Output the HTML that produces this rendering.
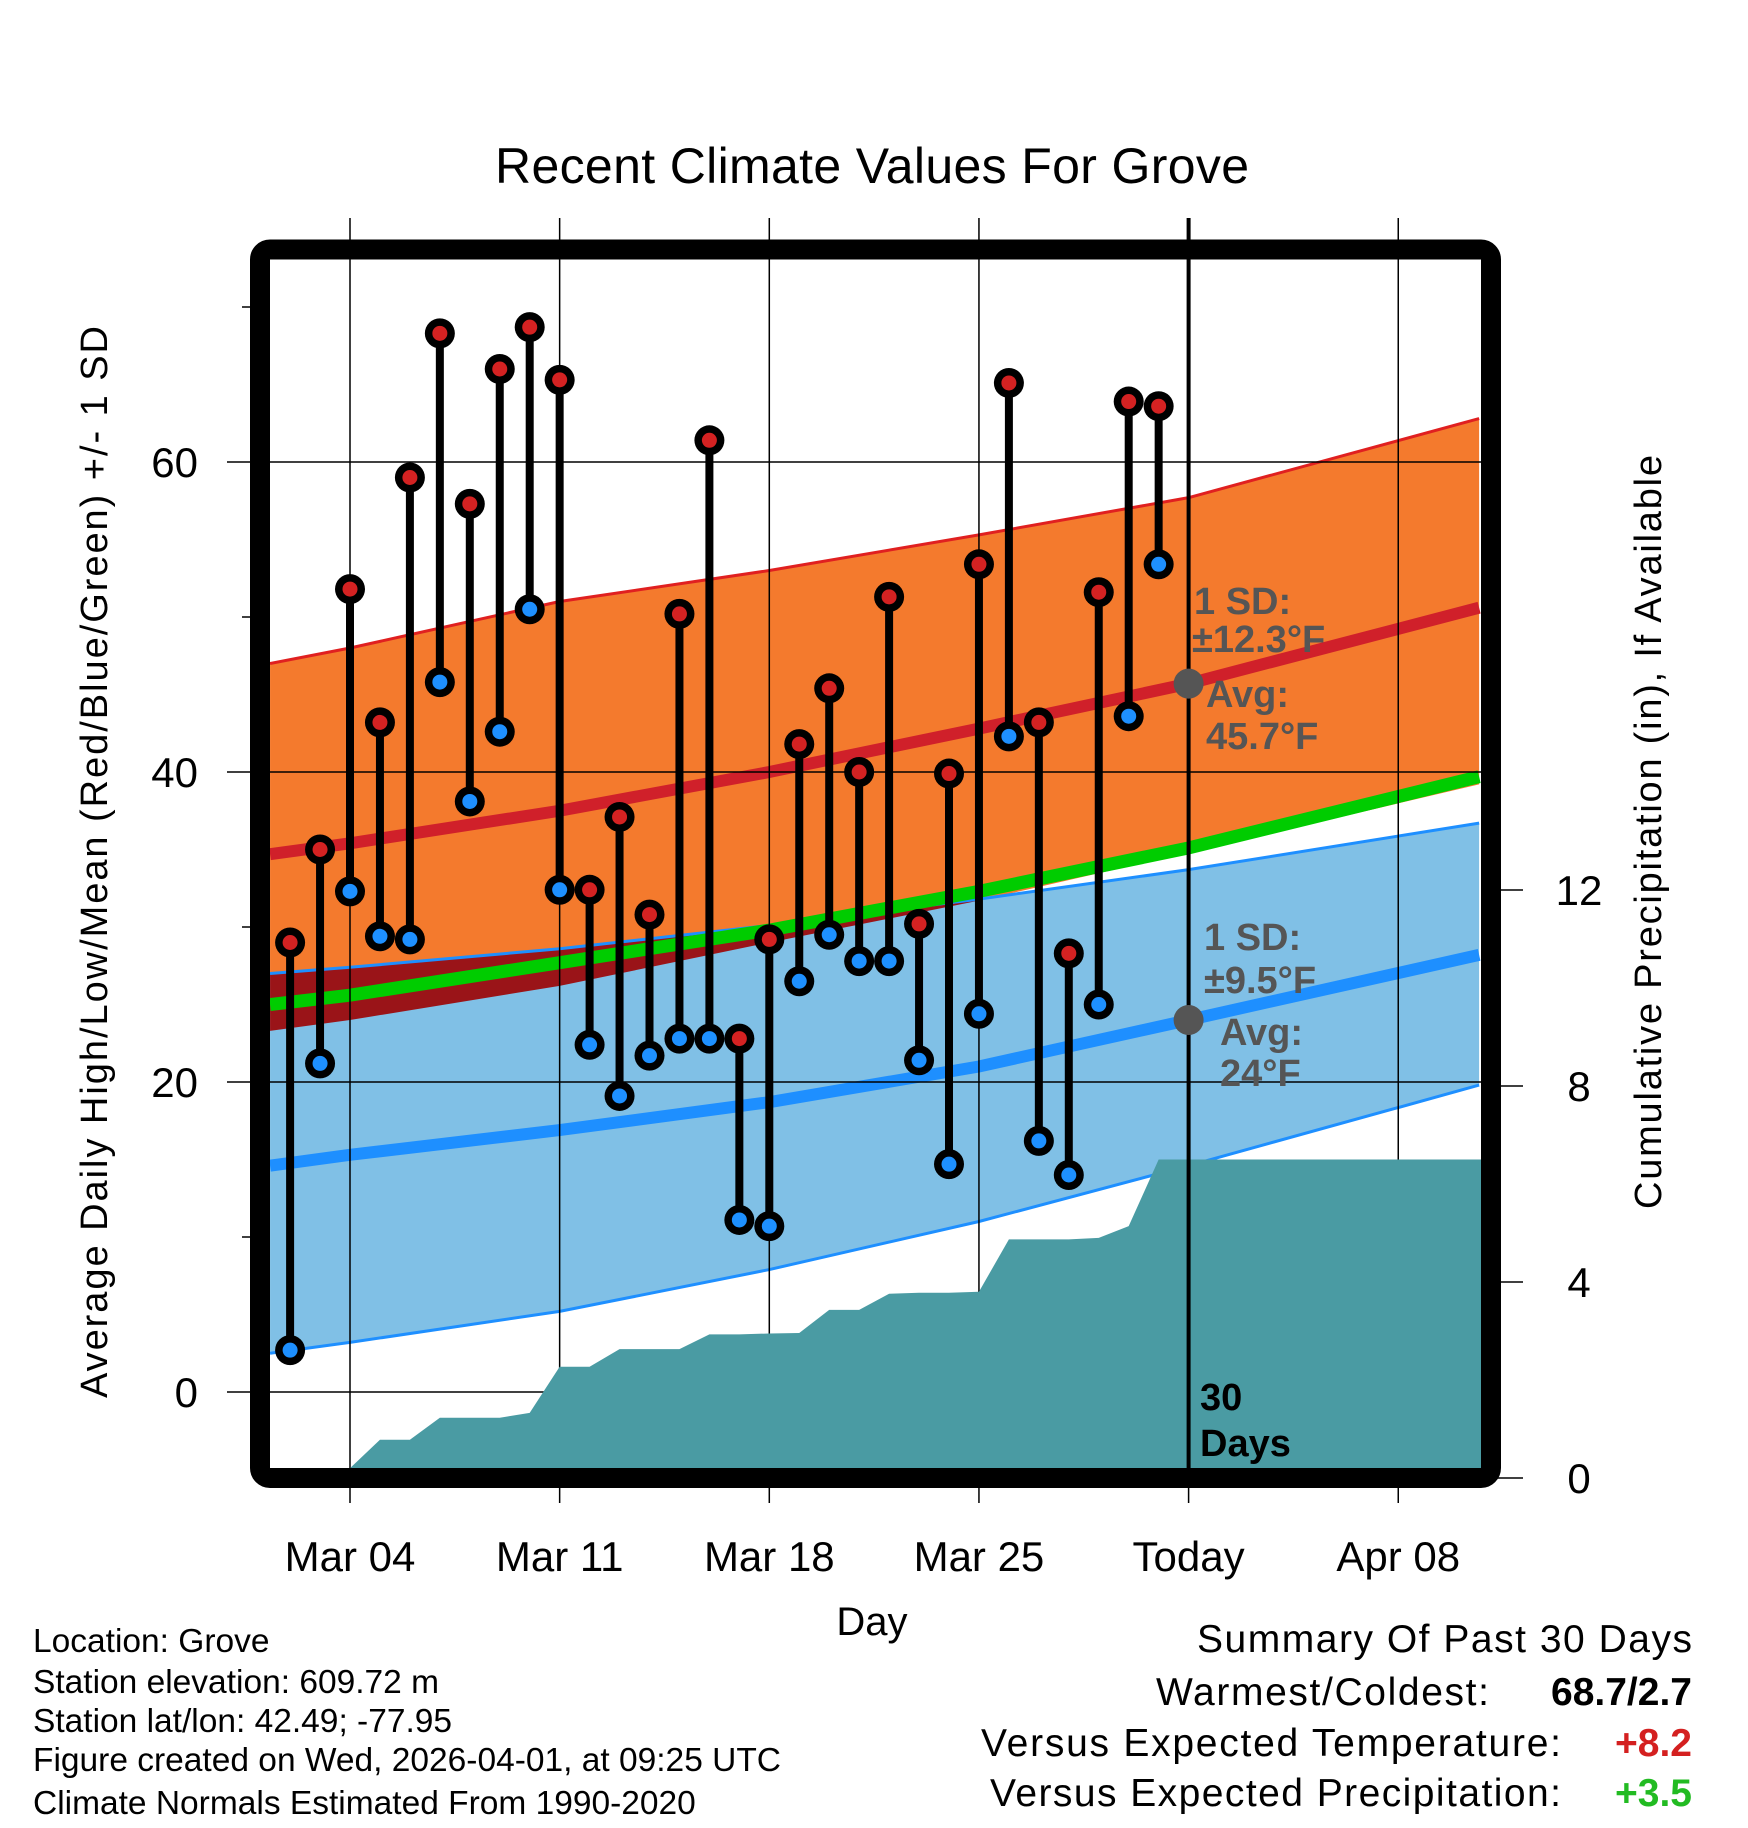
<!DOCTYPE html>
<html><head><meta charset="utf-8"><style>
html,body{margin:0;padding:0;background:#fff;}
svg{display:block;font-family:"Liberation Sans",sans-serif;}
</style></head><body>
<svg id="chart" width="1748" height="1828" viewBox="0 0 1748 1828" xmlns="http://www.w3.org/2000/svg">
<defs>
<clipPath id="plotclip"><rect x="270" y="260" width="1211" height="1208"/></clipPath>
<clipPath id="orangeclip"><polygon id="orangeclipPoly" points=""/></clipPath>
</defs>
<g id="bands" clip-path="url(#plotclip)"></g>
<g id="grid"></g>
<g id="precip" clip-path="url(#plotclip)"></g>
<g id="marks"></g>
<text x="872" y="183" font-size="50" text-anchor="middle" textLength="754">Recent Climate Values For Grove</text>
<text transform="translate(107,862) rotate(-90)" font-size="38" text-anchor="middle" textLength="1072">Average Daily High/Low/Mean (Red/Blue/Green) +/- 1 SD</text>
<text transform="translate(1661,832) rotate(-90)" font-size="38" text-anchor="middle" textLength="754">Cumulative Precipitation (in), If Available</text>
<text x="872" y="1635" font-size="40" text-anchor="middle">Day</text>
<g font-weight="bold" font-size="38" fill="#555">
<text x="1194" y="614">1 SD:</text>
<text x="1192" y="652">±12.3°F</text>
<text x="1206" y="707">Avg:</text>
<text x="1206" y="749">45.7°F</text>
<text x="1204" y="950">1 SD:</text>
<text x="1204" y="993">±9.5°F</text>
<text x="1220" y="1045">Avg:</text>
<text x="1220" y="1086">24°F</text>
</g>
<text x="1200" y="1410" font-size="38" font-weight="bold">30</text>
<text x="1200" y="1456" font-size="38" font-weight="bold">Days</text>
<g font-size="33.5">
<text x="33" y="1652">Location: Grove</text>
<text x="33" y="1693">Station elevation: 609.72 m</text>
<text x="33" y="1732">Station lat/lon: 42.49; -77.95</text>
<text x="33" y="1771">Figure created on Wed, 2026-04-01, at 09:25 UTC</text>
<text x="33" y="1814">Climate Normals Estimated From 1990-2020</text>
</g>
<g font-size="39">
<text x="1692" y="1652" text-anchor="end" textLength="495">Summary Of Past 30 Days</text>
<text x="1489" y="1705" text-anchor="end" textLength="333">Warmest/Coldest:</text>
<text x="1692" y="1705" text-anchor="end" font-weight="bold">68.7/2.7</text>
<text x="1561" y="1756" text-anchor="end" textLength="580">Versus Expected Temperature:</text>
<text x="1692" y="1756" text-anchor="end" font-weight="bold" fill="#d42020">+8.2</text>
<text x="1561" y="1806" text-anchor="end" textLength="571">Versus Expected Precipitation:</text>
<text x="1692" y="1806" text-anchor="end" font-weight="bold" fill="#22bb22">+3.5</text>
</g>
</svg>
<script>
// Temperature observations (day offsets relative to Mar 04)
const days = [-2,-1,0,1,2,3,4,5,6,7,8,9,10,11,12,13,14,15,16,17,18,19,20,21,22,23,24,25,26,27];
const highs = [29,35,51.8,43.2,59,68.3,57.3,66,68.7,65.3,32.4,37.1,30.8,50.2,61.4,22.8,29.2,41.8,45.4,40,51.3,30.2,39.9,53.4,65.1,43.2,28.3,51.6,63.9,63.6];
const lows = [2.7,21.2,32.3,29.4,29.2,45.8,38.1,42.6,50.5,32.4,22.4,19.1,21.7,22.8,22.8,11.1,10.7,26.5,29.5,27.8,27.8,21.4,14.7,24.4,42.3,16.2,14,25,43.6,53.4];
const precip = [0,0,0.2,0.78,0.78,1.23,1.23,1.23,1.33,2.27,2.27,2.63,2.63,2.63,2.93,2.93,2.95,2.96,3.43,3.43,3.76,3.78,3.78,3.8,4.87,4.87,4.87,4.9,5.14,6.5];
// Normals
const normDays = [-2.67,0,7,14,21,28,37.7];
const hiUpper = [47,48,51,53,55.3,57.7,62.8];
const hiMean = [34.7,35.4,37.5,40,42.8,45.7,50.6];
const hiLower = [23.3,24,26.2,29,31.7,34.8,39.2];
const loUpper = [27,27.4,28.6,30.1,31.8,33.7,36.7];
const loMean = [14.6,15.3,16.9,18.7,21,24,28.2];
const loLower = [2.5,3.2,5.2,7.9,11,14.6,19.8];
const avgMean = [25,25.6,27.7,29.8,32.3,35.1,39.7];
const xTickDays = [0,7,14,21,28,35];
const xTickLabels = ["Mar 04","Mar 11","Mar 18","Mar 25","Today","Apr 08"];
const yTicks = [0,20,40,60];
const yMinor = [10,30,50,70];
const y2Ticks = [0,4,8,12];
const todayDay = 28;
const todayHiAvg = 45.7, todayLoAvg = 24;

const NS="http://www.w3.org/2000/svg";
const X = d => 350 + d*29.95;
const Y = v => 1392 - v*15.5;
const Y2 = p => 1478 - p*49;
const PL=270, PR=1481, PT=260, PB=1468;
function mk(tag, attrs, parent){const e=document.createElementNS(NS,tag);for(const k in attrs)e.setAttribute(k,attrs[k]);parent.appendChild(e);return e;}
const pts = arr => normDays.map((d,i)=>X(d)+","+Y(arr[i]));
const bandPts = (up,lo)=>pts(up).concat(pts(lo).reverse()).join(" ");

const bands=document.getElementById('bands');
let e;
e=mk('polygon',{points:bandPts(hiUpper,hiLower),fill:'#f47a2d'},bands);


document.getElementById('orangeclipPoly').setAttribute('points',bandPts(hiUpper,hiLower));
e=mk('polygon',{points:bandPts(loUpper,loLower),fill:'#80c0e6'},bands);


e=mk('polygon',{points:bandPts(loUpper,loLower),fill:'#9a1418','clip-path':'url(#orangeclip)'},bands);


const lineDefs=[[hiUpper,'#e02020',3,'high-upper-line'],[hiMean,'#d0202a',12,'high-mean-line'],[loUpper,'#1e8fff',3,'low-upper-line'],[loLower,'#1e8fff',3,'low-lower-line'],[loMean,'#1e8fff',12,'low-mean-line'],[avgMean,'#00cc00',13,'avg-mean-line']];
lineDefs.forEach(([arr,c,w,n])=>{
  const l=mk('polyline',{points:pts(arr).join(" "),fill:'none',stroke:c,'stroke-width':w},bands);
  
  
});

const grid=document.getElementById('grid');
yTicks.forEach(v=>{
  const l=mk('line',{x1:227,x2:PR,y1:Y(v),y2:Y(v),stroke:'#000','stroke-width':1.5},grid);
  
  
  const t=mk('text',{x:198,y:Y(v)+15,'font-size':42,'text-anchor':'end'},grid);
  t.textContent=v;
  
  
});
yMinor.forEach(v=>{
  const l=mk('line',{x1:242,x2:PL,y1:Y(v),y2:Y(v),stroke:'#000','stroke-width':1.5},grid);
  
  
});
xTickDays.forEach((d,i)=>{
  const l=mk('line',{x1:X(d),x2:X(d),y1:218,y2:1503,stroke:'#000','stroke-width':1.5},grid);
  
  
  const t=mk('text',{x:X(d),y:1571,'font-size':42,'text-anchor':'middle'},grid);
  t.textContent=xTickLabels[i];
  
  
});
y2Ticks.forEach(p=>{
  const l=mk('line',{x1:PR,x2:1523,y1:Y2(p),y2:Y2(p),stroke:'#000','stroke-width':1.5},grid);
  
  
  const t=mk('text',{x:1579,y:Y2(p)+15,'font-size':42,'text-anchor':'middle'},grid);
  t.textContent=p;
  
  
});

const pg=document.getElementById('precip');
let pp=[X(days[0])+","+(PB+20)];
days.forEach((d,i)=>pp.push(X(d)+","+Y2(precip[i])));
pp.push((PR+5)+","+Y2(precip[precip.length-1]));
pp.push((PR+5)+","+(PB+20));
e=mk('polygon',{points:pp.join(" "),fill:'#4a9ba3'},pg);



const marks=document.getElementById('marks');
e=mk('line',{x1:X(todayDay),x2:X(todayDay),y1:218,y2:PB,stroke:'#000','stroke-width':4},marks);


e=mk('rect',{x:260,y:249.5,width:1231,height:1228.5,rx:10,fill:'none',stroke:'#000','stroke-width':20},marks);


days.forEach((d,i)=>{
  const s=mk('line',{x1:X(d),x2:X(d),y1:Y(highs[i]),y2:Y(lows[i]),stroke:'#000','stroke-width':8},marks);
  
  
});
days.forEach((d,i)=>{
  [[highs[i],'#d42222','high-marker'],[lows[i],'#1e90ff','low-marker']].forEach(([v,c,n])=>{
    const o=mk('circle',{cx:X(d),cy:Y(v),r:15,fill:'#000'},marks);
    
    
    const c2=mk('circle',{cx:X(d),cy:Y(v),r:7.5,fill:c},marks);
    
    
  });
});
[[todayHiAvg,'today-high-avg-dot'],[todayLoAvg,'today-low-avg-dot']].forEach(([v,n])=>{
  const c=mk('circle',{cx:X(todayDay),cy:Y(v),r:15,fill:'#555'},marks);
  
  
});
</script>
</body></html>
